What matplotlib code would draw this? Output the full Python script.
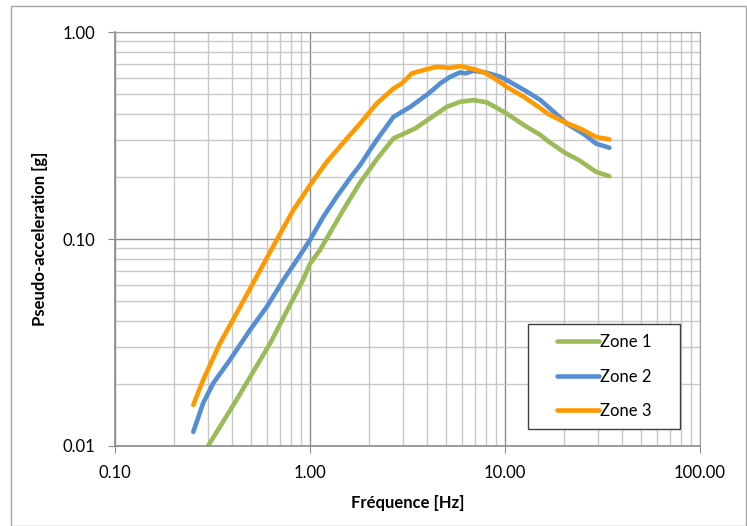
import matplotlib.pyplot as plt
from matplotlib.patches import Rectangle
from matplotlib.ticker import FixedLocator, LogLocator, NullFormatter

# frequences [Hz] et pseudo-acceleration [g]
freq_z1 = [0.30, 0.42, 0.624, 0.925, 1.0, 1.125, 1.48, 1.81, 2.03, 2.20, 2.68, 3.46, 4.13,
           5.03, 5.89, 6.90, 8.07, 10.2, 12.5, 15.2, 16.7, 20.3, 24.0, 29.3, 34.3]
acc_z1 = [0.0100, 0.0167, 0.0313, 0.064, 0.076, 0.0884, 0.138, 0.188, 0.218, 0.243, 0.306, 0.342, 0.383,
          0.435, 0.460, 0.469, 0.457, 0.404, 0.355, 0.318, 0.296, 0.261, 0.240, 0.211, 0.201]

freq_z2 = [0.252, 0.283, 0.319, 0.388, 0.492, 0.600, 0.730, 0.855, 1.0, 1.17, 1.37, 1.67,
           1.81, 2.03, 2.20, 2.68, 3.27, 4.06, 4.66, 5.24, 5.89, 6.25, 6.90, 8.07,
           9.46, 10.6, 13.0, 15.2, 17.6, 20.9, 25.4, 29.3, 34.3]
acc_z2 = [0.0117, 0.0161, 0.0201, 0.026, 0.0363, 0.047, 0.0633, 0.079, 0.099, 0.128, 0.16, 0.207,
          0.228, 0.269, 0.301, 0.389, 0.435, 0.505, 0.565, 0.608, 0.638, 0.631, 0.650, 0.635,
          0.608, 0.574, 0.514, 0.469, 0.415, 0.359, 0.321, 0.289, 0.276]

freq_z3 = [0.252, 0.283, 0.345, 0.420, 0.532, 0.675, 0.821, 1.0, 1.22, 1.56, 1.81, 2.20,
           2.68, 2.96, 3.33, 3.82, 4.47, 5.24, 5.89, 6.90, 7.92, 9.10, 10.2, 12.5,
           15.2, 16.7, 20.3, 24.7, 29.3, 34.3]
acc_z3 = [0.0158, 0.0208, 0.0313, 0.0437, 0.0657, 0.099, 0.138, 0.182, 0.236, 0.309, 0.362, 0.452,
          0.533, 0.565, 0.631, 0.655, 0.679, 0.671, 0.684, 0.662, 0.635, 0.586, 0.543, 0.486,
          0.428, 0.401, 0.366, 0.339, 0.311, 0.303]

x_ticks = [0.1, 1, 10, 100]
x_labels = ['0.10', '1.00', '10.00', '100.00']
y_ticks = [0.01, 0.1, 1]
y_labels = ['0.01', '0.10', '1.00']

plt.rcParams['font.family'] = ['Lato', 'DejaVu Sans']

W, H = 747, 526
fig = plt.figure(figsize=(W / 100, H / 100), dpi=100)
ax = fig.add_axes([115 / W, 1 - 446 / H, (700 - 115) / W, (446 - 32) / H])

lw = 3.3
ax.plot(freq_z1, acc_z1, color='#9BBB59', lw=lw, label='Zone 1', solid_capstyle='round', solid_joinstyle='round')
ax.plot(freq_z2, acc_z2, color='#558ED5', lw=lw, label='Zone 2', solid_capstyle='round', solid_joinstyle='round')
ax.plot(freq_z3, acc_z3, color='#FF9900', lw=lw, label='Zone 3', solid_capstyle='round', solid_joinstyle='round')

ax.set_xscale('log')
ax.set_yscale('log')
ax.set_xlim(0.1, 100)
ax.set_ylim(0.01, 1)

ax.xaxis.set_major_locator(FixedLocator(x_ticks))
ax.set_xticklabels(x_labels)
ax.yaxis.set_major_locator(FixedLocator(y_ticks))
ax.set_yticklabels(y_labels)
ax.xaxis.set_minor_locator(LogLocator(base=10, subs=range(2, 10)))
ax.yaxis.set_minor_locator(LogLocator(base=10, subs=range(2, 10)))
ax.xaxis.set_minor_formatter(NullFormatter())
ax.yaxis.set_minor_formatter(NullFormatter())

ax.grid(True, which='minor', color='#c8c8c8', lw=1.0)
ax.grid(True, which='major', color='#8c8c8c', lw=1.0)
ax.set_axisbelow(True)

ax.tick_params(which='major', length=5, color='#8c8c8c', labelsize=12)
ax.tick_params(axis='y', pad=9)
ax.tick_params(axis='x', pad=9)
ax.tick_params(which='minor', length=0)
for side in ['left', 'bottom']:
    ax.spines[side].set_color('#8c8c8c')
    ax.spines[side].set_linewidth(1.2)
for side in ['top', 'right']:
    ax.spines[side].set_color('#a0a0a0')

ax.set_xlabel('Fréquence [Hz]', fontsize=12, fontweight='bold', labelpad=10)
ax.set_ylabel('Pseudo-acceleration [g]', fontsize=12, fontweight='bold', labelpad=11)

# cadre de la legende dessine a part pour avoir les marges d'Excel
box_x0, box_y0, box_x1, box_y1 = 528, 324, 680, 429
ax.add_patch(Rectangle((box_x0 / W, 1 - box_y1 / H), (box_x1 - box_x0) / W, (box_y1 - box_y0) / H,
                       transform=fig.transFigure, facecolor='white',
                       edgecolor='#404040', lw=1.0, zorder=4))
leg = ax.legend(loc='center', bbox_to_anchor=((box_x0 + box_x1) / 2 / W, 1 - (box_y0 + box_y1) / 2 / H),
                bbox_transform=fig.transFigure, fontsize=12, frameon=False,
                handlelength=2.5, handletextpad=0.05, labelspacing=1.12, borderpad=0)
leg.set_zorder(5)

fig.patches.append(Rectangle((11 / W, 0.5 / H), (W - 12) / W, (H - 6.5) / H,
                             transform=fig.transFigure, fill=False,
                             edgecolor='#a6a6a6', lw=1))

fig.savefig('out.png', dpi=100)
